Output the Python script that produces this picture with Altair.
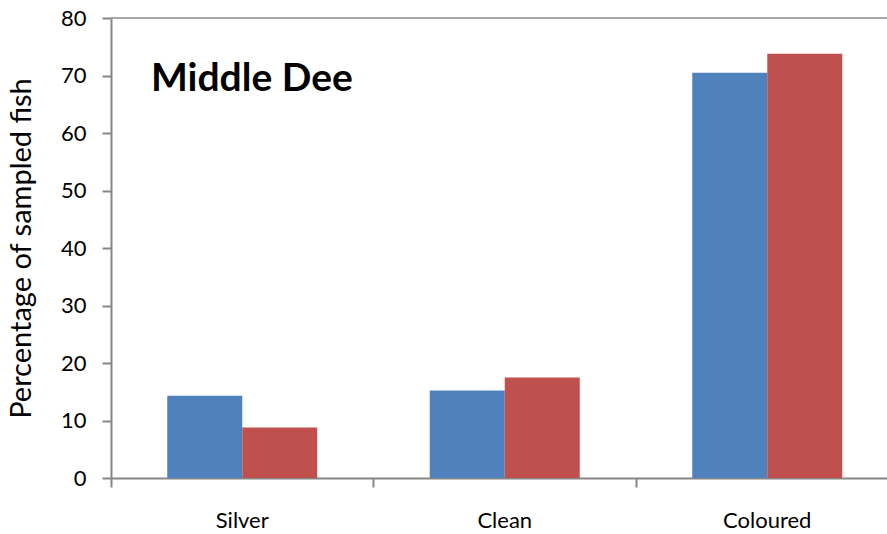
import altair as alt
import pandas as pd

categories = ["Silver", "Clean", "Coloured"]
series_a = [14.3, 15.2, 70.5]
series_b = [8.8, 17.5, 73.8]
series_names = ["A", "B"]
colors = ["#4F81BD", "#C0504D"]

rows = []
for i, c in enumerate(categories):
    rows.append({"cat": c, "series": series_names[0], "value": series_a[i]})
    rows.append({"cat": c, "series": series_names[1], "value": series_b[i]})
df = pd.DataFrame(rows)

FONT = "Lato"
AXC = "#868686"

bars = alt.Chart(df).mark_bar().encode(
    x=alt.X("cat:N", sort=categories,
            scale=alt.Scale(paddingInner=0.4286, paddingOuter=0.2143, range=[0, 787.5]),
            axis=alt.Axis(title=None, labelAngle=0, labelFontSize=22, labelColor="black",
                          labelFont=FONT, labelPadding=23, bandPosition=-0.375,
                          domainColor=AXC, domainWidth=2, tickColor=AXC, tickWidth=2, tickSize=9,
                          grid=False)),
    xOffset=alt.XOffset("series:N", sort=series_names),
    y=alt.Y("value:Q", scale=alt.Scale(domain=[0, 80], nice=False),
            axis=alt.Axis(title="Percentage of sampled fish", titleFontSize=29, titleFont=FONT,
                          titleFontWeight="normal", titleColor="black", titlePadding=24,
                          values=[0, 10, 20, 30, 40, 50, 60, 70, 80],
                          labelFontSize=22, labelFont=FONT, labelColor="black", labelPadding=16,
                          domainColor=AXC, domainWidth=2, tickColor=AXC, tickWidth=2, tickSize=9,
                          grid=False)),
    color=alt.Color("series:N", sort=series_names,
                    scale=alt.Scale(domain=series_names, range=colors), legend=None),
)

top_rule = alt.Chart(pd.DataFrame({"y": [80]})).mark_rule(color="#A6A6A6", strokeWidth=2).encode(
    y="y:Q"
)

label = alt.Chart(pd.DataFrame({"t": ["Middle Dee"]})).mark_text(
    align="left", baseline="middle", fontSize=39, fontWeight="bold", font=FONT, color="black"
).encode(x=alt.value(40), y=alt.value(61), text="t:N")

chart = alt.layer(top_rule, bars, label).properties(
    width=776, height=460,
    padding={"left": 111, "top": 18, "right": 0, "bottom": 56},
    autosize=alt.AutoSizeParams(type="none"),
).configure_view(stroke=None).configure(background="white")

chart.save("out.html", embed_options={"renderer": "svg", "actions": False})
